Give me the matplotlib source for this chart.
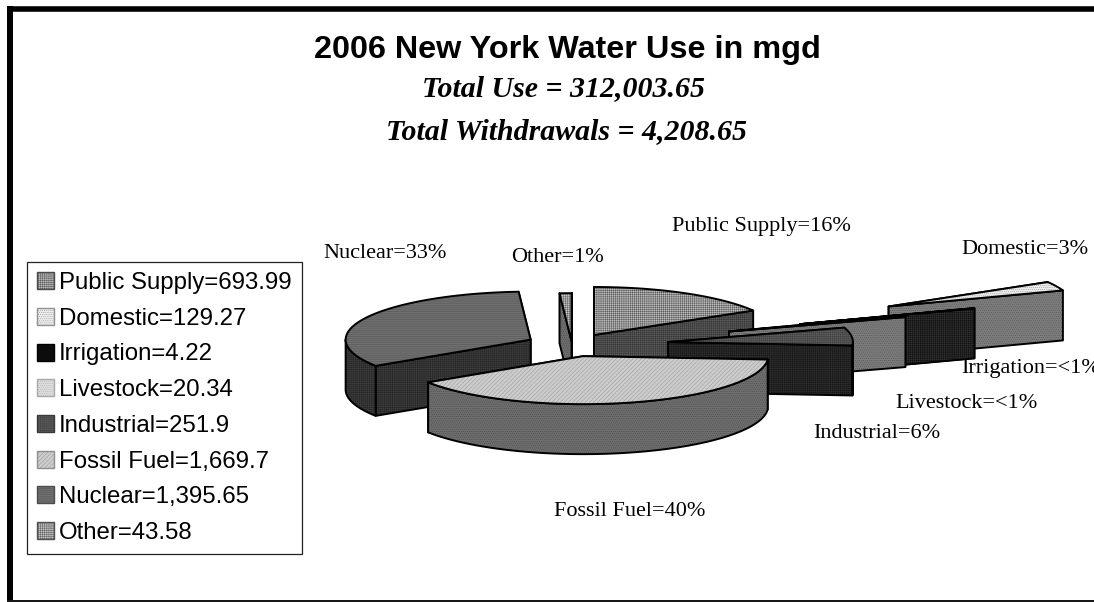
import numpy as np
import matplotlib
matplotlib.use("Agg")
import matplotlib.pyplot as plt
from matplotlib.patches import Polygon, Patch

# Water use, mgd
names = ["Public Supply", "Domestic", "Irrigation", "Livestock",
         "Industrial", "Fossil Fuel", "Nuclear", "Other"]
amounts = [693.99, 129.27, 4.22, 20.34, 251.9, 1669.7, 1395.65, 43.58]
amount_labels = ["693.99", "129.27", "4.22", "20.34", "251.9", "1,669.7", "1,395.65", "43.58"]
pct_labels = ["16%", "3%", "<1%", "<1%", "6%", "40%", "33%", "1%"]
explode = [0.24, 1.89, 1.306, 0.894, 0.522, 0.24, 0.25, 0.08]

# top / side colour and hatch of each slice
top_colors = ["#bcbcbc", "#ececec", "#0c0c0c", "#dedede", "#5e5e5e", "#cdcdcd", "#707070", "#c4c4c4"]
side_colors = ["#5c5c5c", "#7e7e7e", "#101010", "#7c7c7c", "#2e2e2e", "#6e6e6e", "#3e3e3e", "#6e6e6e"]
top_ink = ["#4a4a4a", "#909090", "#000000", "#a8a8a8", "#3a3a3a", "#8e8e8e", "#4c4c4c", "#505050"]
side_ink = ["#2c2c2c", "#4c4c4c", "#3a3a3a", "#4a4a4a", "#121212", "#444444", "#202020", "#444444"]
top_hatch = ["++++++++", "........", "", "........", "++++++++", "////////", "--------", "++++++++"]
side_hatch = ["++++++++", "........", "++++++++", "........", "++++++++", "........", "++++++++", "........"]
label_xy = [(761, 226), (1025, 249), (1031, 369), (967, 403), (877, 434), (630, 511), (385, 254), (558, 257)]

# pie geometry in pixels
cx, cy = 572, 345
rx, ry = 185, 48
depth = 50

plt.rcParams["hatch.linewidth"] = 0.3
fig = plt.figure(figsize=(10.94, 6.02), dpi=100)
ax = fig.add_axes([0, 0, 1, 1])
ax.set_xlim(0, 1094)
ax.set_ylim(602, 0)
ax.axis("off")


def face(pts, color, hatch, ink, z):
    # hatch colour comes from edgecolor, so the outline is a second patch
    ax.add_patch(Polygon(pts, closed=True, facecolor=color, hatch=hatch, edgecolor=ink,
                         linewidth=0, zorder=z))
    ax.add_patch(Polygon(pts, closed=True, fill=False, edgecolor="black",
                         linewidth=1.4, joinstyle="round", zorder=z))


def arc(x0, y0, t0, t1):
    t = np.radians(np.linspace(t0, t1, 60))
    return np.column_stack([x0 + rx * np.cos(t), y0 - ry * np.sin(t)])


# slice angles, clockwise from twelve o'clock
sweep = np.array(amounts) / sum(amounts) * 360
ends = 90 - np.cumsum(sweep)
starts = ends + sweep

paint_order = [0, 7, 6, 1, 2, 3, 4, 5]
for n, i in enumerate(paint_order):
    t0, t1 = starts[i], ends[i]
    mid = np.radians((t0 + t1) / 2)
    x0 = cx + explode[i] * rx * np.cos(mid)
    y0 = cy - explode[i] * ry * np.sin(mid)
    z = 10 + n * 5
    # cut faces, the one further back first
    cuts = sorted([t0, t1], key=lambda a: -np.sin(np.radians(a)))
    for k, a in enumerate(cuts):
        p = arc(x0, y0, a, a)[0]
        pts = [(x0, y0), p, (p[0], p[1] + depth), (x0, y0 + depth)]
        face(pts, side_colors[i], side_hatch[i], side_ink[i], z + k)
    # outer wall, only where it faces the viewer
    lo, hi = max(t1, -180), min(t0, 0)
    if lo < hi:
        a = arc(x0, y0, hi, lo)
        wall = np.vstack([a, (a + [0, depth])[::-1]])
        face(wall, side_colors[i], side_hatch[i], side_ink[i], z + 2)
    top = np.vstack([[(x0, y0)], arc(x0, y0, t0, t1)])
    face(top, top_colors[i], top_hatch[i], top_ink[i], z + 3)

# slice labels
for name, pct, (lx, ly) in zip(names, pct_labels, label_xy):
    ax.text(lx, ly, name + "=" + pct, family="Liberation Serif", fontsize=16,
            ha="center", va="center", zorder=100, clip_on=False)

# titles
ax.text(567, 50, "2006 New York Water Use in mgd", family="Liberation Sans", fontweight="bold",
        fontsize=23.3, ha="center", va="center")
ax.text(564, 89, "Total Use = 312,003.65", family="Liberation Serif", fontweight="bold",
        style="italic", fontsize=21.5, ha="center", va="center")
ax.text(566, 132, "Total Withdrawals = 4,208.65", family="Liberation Serif", fontweight="bold",
        style="italic", fontsize=21.5, ha="center", va="center")

# outer border
ax.plot([10, 10], [6, 600], color="black", lw=4.3, solid_capstyle="butt", zorder=120)
ax.plot([7, 1094], [9, 9], color="black", lw=4, solid_capstyle="butt", zorder=120)
ax.plot([7, 1094], [600.5, 600.5], color="black", lw=1.3, solid_capstyle="butt", zorder=120)

# legend
handles = [Patch(facecolor=top_colors[i], edgecolor=top_ink[i], hatch=top_hatch[i], linewidth=1.0,
                 label=names[i] + "=" + amount_labels[i]) for i in range(len(names))]
leg = ax.legend(handles=handles, loc="upper left", bbox_to_anchor=(27, 262),
                bbox_transform=ax.transData, prop={"family": "Liberation Sans", "size": 17.3},
                frameon=True, fancybox=False, edgecolor="#222222", framealpha=1,
                borderpad=0.42, borderaxespad=0, labelspacing=0.57,
                handlelength=0.71, handleheight=0.71, handletextpad=0.2)
leg.get_frame().set_linewidth(0.9)
leg.set_zorder(110)

fig.savefig("out.png", dpi=100)
